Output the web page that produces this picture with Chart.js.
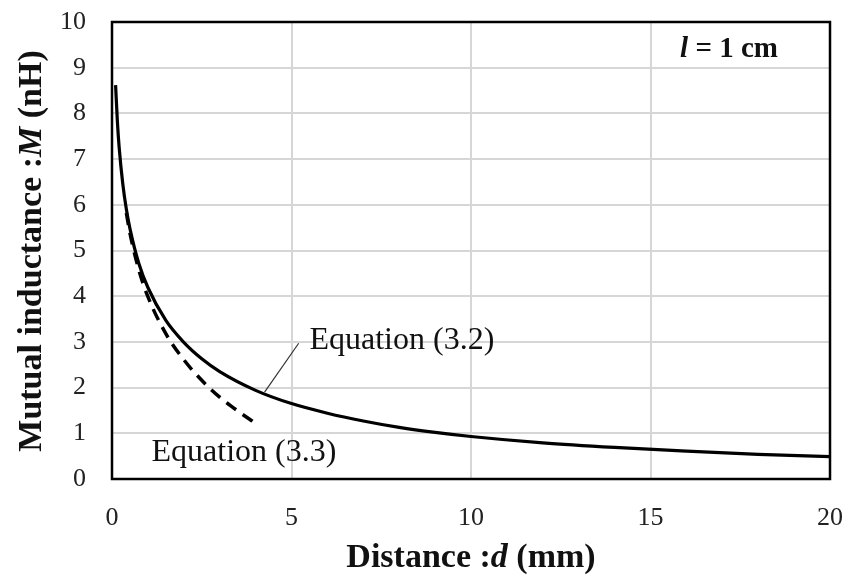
<!DOCTYPE html>
<html>
<head>
<meta charset="utf-8">
<script src="https://cdn.jsdelivr.net/npm/chart.js@4/dist/chart.umd.min.js"></script>
<style>
  html, body { margin: 0; padding: 0; background: #ffffff; }
  #wrap { width: 850px; height: 582px; position: relative; }
</style>
</head>
<body>
<div id="wrap"><canvas id="c" width="850" height="582"></canvas></div>
<script>
// Distance d (mm) and mutual inductance M (nH)
const eq32Distance = [0.1, 0.15, 0.2, 0.3, 0.4, 0.5, 0.75, 1, 1.5, 2, 2.5, 3, 4, 5, 6, 7, 8, 9, 10, 12, 14, 16, 18, 20];
const eq32Inductance = [8.62, 7.82, 7.25, 6.46, 5.90, 5.48, 4.71, 4.19, 3.47, 2.99, 2.63, 2.35, 1.94, 1.65, 1.44, 1.27, 1.13, 1.02, 0.93, 0.79, 0.69, 0.61, 0.54, 0.49];
const eq33Distance = [0.4, 0.5, 0.75, 1, 1.5, 2, 2.5, 3, 3.5, 4];
const eq33Inductance = [5.82, 5.38, 4.57, 3.99, 3.18, 2.61, 2.16, 1.79, 1.49, 1.22];
const xTicks = [0, 5, 10, 15, 20];
const yTicks = [0, 1, 2, 3, 4, 5, 6, 7, 8, 9, 10];
const xTitleParts = [["Distance :", "bold"], ["d", "bold italic"], [" (mm)", "bold"]];
const yTitleParts = [["Mutual inductance :", "bold"], ["M", "bold italic"], [" (nH)", "bold"]];
const noteParts = [["l", "bold italic"], [" = 1 cm", "bold"]];
const label32 = "Equation (3.2)";
const label33 = "Equation (3.3)";

const toPts = (xs, ys) => xs.map((x, i) => ({ x: x, y: ys[i] }));
const SERIF = "'Liberation Serif', 'Times New Roman', serif";

function drawParts(ctx, parts, size, x, y, align) {
  let total = 0;
  parts.forEach(p => { ctx.font = p[1] + " " + size + "px " + SERIF; total += ctx.measureText(p[0]).width; });
  let cx = align === "center" ? x - total / 2 : x;
  ctx.textAlign = "left";
  parts.forEach(p => {
    ctx.font = p[1] + " " + size + "px " + SERIF;
    ctx.fillText(p[0], cx, y);
    cx += ctx.measureText(p[0]).width;
  });
}

const decor = {
  id: "decor",
  afterDatasetsDraw(chart) {
    const ctx = chart.ctx;
    const a = chart.chartArea;
    const xs = chart.scales.x, ys = chart.scales.y;
    ctx.save();
    ctx.strokeStyle = "#000";
    ctx.lineWidth = 2.5;
    ctx.strokeRect(a.left, a.top, a.right - a.left, a.bottom - a.top);
    ctx.fillStyle = "#111";
    ctx.textBaseline = "alphabetic";
    ctx.font = "32px " + SERIF;
    ctx.textAlign = "left";
    ctx.fillText(label32, xs.getPixelForValue(5.5), ys.getPixelForValue(2.85));
    ctx.fillText(label33, xs.getPixelForValue(1.1), ys.getPixelForValue(0.39));
    ctx.strokeStyle = "#333";
    ctx.lineWidth = 1.2;
    ctx.beginPath();
    ctx.moveTo(xs.getPixelForValue(4.25), ys.getPixelForValue(1.9));
    ctx.lineTo(xs.getPixelForValue(5.2), ys.getPixelForValue(2.97));
    ctx.stroke();
    drawParts(ctx, noteParts, 29, 729, 57, "center");
    drawParts(ctx, xTitleParts, 34, (a.left + a.right) / 2, 567, "center");
    ctx.translate(41, 251);
    ctx.rotate(-Math.PI / 2);
    drawParts(ctx, yTitleParts, 34, 0, 0, "center");
    ctx.restore();
  }
};

new Chart(document.getElementById("c"), {
  type: "scatter",
  data: {
    datasets: [
      {
        label: label32,
        data: toPts(eq32Distance, eq32Inductance),
        showLine: true,
        borderColor: "#000",
        borderWidth: 3.2,
        pointRadius: 0,
        cubicInterpolationMode: "monotone",
        fill: false
      },
      {
        label: label33,
        data: toPts(eq33Distance, eq33Inductance),
        showLine: true,
        borderColor: "#000",
        borderWidth: 3.5,
        borderDash: [12, 8],
        pointRadius: 0,
        cubicInterpolationMode: "monotone",
        fill: false
      }
    ]
  },
  options: {
    responsive: false,
    animation: false,
    layout: { padding: { top: 22, right: 20, left: 0, bottom: 0 } },
    plugins: { legend: { display: false }, tooltip: { enabled: false } },
    scales: {
      x: {
        type: "linear",
        min: 0, max: 20,
        afterBuildTicks: s => { s.ticks = xTicks.map(v => ({ value: v })); },
        afterFit: s => { s.height = 103; s.paddingLeft = 0; s.paddingRight = 0; },
        grid: { color: "#d6d6d6", lineWidth: 2, drawTicks: false },
        border: { display: false },
        ticks: { font: { family: SERIF, size: 26 }, color: "#222", padding: 24, maxRotation: 0 }
      },
      y: {
        type: "linear",
        min: 0, max: 10,
        afterBuildTicks: s => { s.ticks = yTicks.map(v => ({ value: v })); },
        afterFit: s => { s.width = 112; s.paddingTop = 0; s.paddingBottom = 0; },
        grid: { color: "#d6d6d6", lineWidth: 2, drawTicks: false },
        border: { display: false },
        ticks: { font: { family: SERIF, size: 26 }, color: "#222", padding: 26 }
      }
    }
  },
  plugins: [decor]
});
</script>
</body>
</html>
